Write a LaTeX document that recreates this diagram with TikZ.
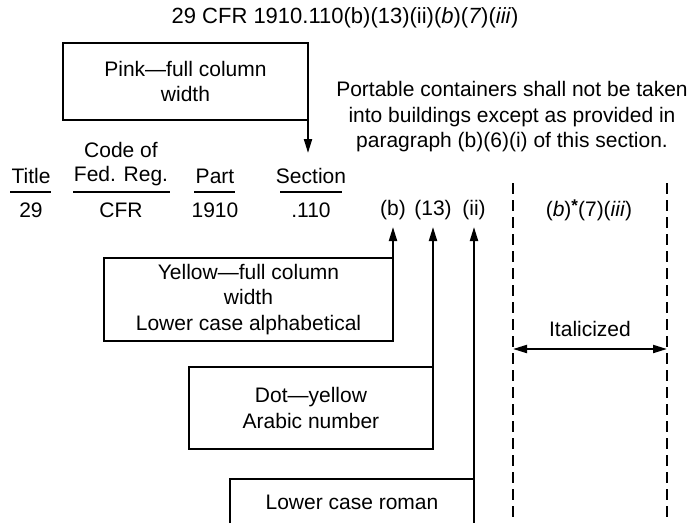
\documentclass[tikz,border=0pt]{standalone}
\usepackage{fontspec}
\setmainfont{Liberation Sans}
\usetikzlibrary{arrows.meta}
\begin{document}
\begin{tikzpicture}[x=1pt,y=-1pt,
  txt/.style={font=\fontsize{21}{25.5}\selectfont, inner sep=0pt, align=center},
  boxed/.style={draw, line width=2.4pt},
  arr/.style={line width=2pt, -{Triangle[length=14pt,width=8pt]}},
  darr/.style={line width=2pt, {Triangle[length=14pt,width=8pt]}-{Triangle[length=14pt,width=8pt]}},
  dline/.style={line width=2.2pt, dash pattern=on 11pt off 6pt},
  uline/.style={line width=2pt}]
\useasboundingbox (0,0) rectangle (691,523);
% title
\node[txt, font=\fontsize{22}{26}\selectfont] (title) at (345,18) {29 CFR 1910.110(b)(13)(ii)(\textit{b})(\textit{7})(\textit{iii})};
% pink box
\draw[boxed] (63,43) rectangle (308,120);
\node[txt] (pink) at (185.5,81.5) {Pink—full column\\width};
\coordinate (pbr) at (308,120);
% paragraph
\node[txt] (para) at (512,117) {Portable containers shall not be taken\\into buildings except as provided in\\paragraph (b)(6)(i) of this section.};
% headers
\node[txt] (code) at (121,150) {Code of};
\node[txt] (htitle) at (31,176) {Title};
\node[txt] (hfed) at (121,176) {Fed. Reg.};
\node[txt] (hpart) at (215,176) {Part};
\node[txt] (hsec) at (311,176) {Section};
\draw[uline] (10,192) -- (51,192);
\draw[uline] (73,192) -- (170,192);
\draw[uline] (194,192) -- (235,192);
\draw[uline] (280,192) -- (342,192);
% values
\node[txt] (v29) at (31,210) {29};
\node[txt] (vcfr) at (121,210) {CFR};
\node[txt] (v1910) at (215,210) {1910};
\node[txt] (v110) at (311,210) {.110};
\node[txt] (vb) at (393,210) {(b)};
\node[txt] (v13) at (433,210) {(13)};
\node[txt] (vii) at (474,210) {(ii)};
\node[txt] (vit) at (589,210) {(\textit{b})\raisebox{5pt}{\fontsize{17}{17}\selectfont\bfseries *}(7)(\textit{iii})};
% pink arrow
\coordinate (ptip) at (308,153);
\draw[arr] (pbr) -- (ptip);
% dashed lines
\draw[dline] (513,183) -- (513,523);
\draw[dline] (667,183) -- (667,523);
% yellow box
\draw[boxed] (104,258) rectangle (393,341);
\node[txt] (yellow) at (248.5,299.5) {Yellow—full column\\width\\Lower case alphabetical};
% dot box
\draw[boxed] (189,367) rectangle (433,449);
\node[txt] (dot) at (311,408) {Dot—yellow\\Arabic number};
% roman box
\draw[boxed] (230,523) -- (230,479) -- (474,479) -- (474,523);
\node[txt] (roman) at (352,502) {Lower case roman};
% arrows up
\coordinate (tb) at (393,227);
\coordinate (t13) at (433,227);
\coordinate (tii) at (474,227);
\draw[arr] (393,258) -- (tb);
\draw[arr] (433,367) -- (t13);
\draw[arr] (474,479) -- (tii);
% italicized
\node[txt] (ital) at (590,329) {Italicized};
\coordinate (il) at (513,349);
\coordinate (ir) at (667,349);
\draw[darr] (il) -- (ir);
\end{tikzpicture}
\end{document}
